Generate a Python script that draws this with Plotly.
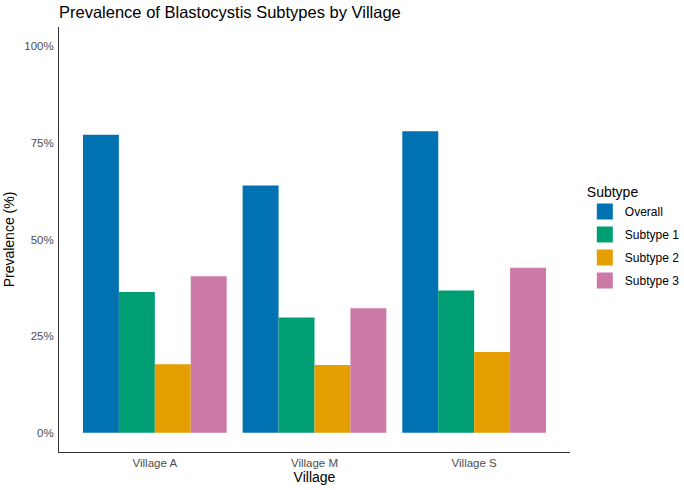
import plotly.graph_objects as go

villages = ["Village A", "Village M", "Village S"]
subtypes = ["Overall", "Subtype 1", "Subtype 2", "Subtype 3"]
overall = [77.1, 64.0, 78.0]
subtype1 = [36.4, 29.8, 36.8]
subtype2 = [17.7, 17.5, 20.9]
subtype3 = [40.5, 32.2, 42.7]
series = [overall, subtype1, subtype2, subtype3]
colors = ["#0072B2", "#009E73", "#E69F00", "#CC79A7"]
y_ticks = [0, 25, 50, 75, 100]

FONT = "Liberation Sans, Arial, Helvetica, sans-serif"

fig = go.Figure()
for name, vals, col in zip(subtypes, series, colors):
    fig.add_trace(go.Bar(
        x=villages, y=vals, name=name, legendgroup=name, showlegend=False,
        marker=dict(color=col, line=dict(width=0)),
    ))
# legend keys (square swatches, like ggplot's keys)
for name, col in zip(subtypes, colors):
    fig.add_trace(go.Scatter(
        x=[None], y=[None], mode="markers", name=name, legendgroup=name,
        marker=dict(symbol="square", size=16, color=col,
                    line=dict(width=0)),
    ))

fig.update_layout(
    template="none",
    width=684, height=490,
    margin=dict(l=59, r=114, t=27, b=38, autoexpand=False),
    paper_bgcolor="white", plot_bgcolor="white",
    barmode="group", bargap=0.1, bargroupgap=0,
    font=dict(family=FONT, color="black"),
    title=dict(text="Prevalence of Blastocystis Subtypes by Village",
               x=59/684, xanchor="left", xref="container",
               y=1-12/490, yanchor="middle",
               font=dict(size=16.5, color="black", family=FONT)),
    legend=dict(
        title=dict(text="Subtype", font=dict(size=14, color="black")),
        font=dict(size=12, color="black"),
        x=1.029, xanchor="left", y=0.505, yanchor="middle",
        tracegroupgap=4, itemwidth=30, itemsizing="trace",
        bgcolor="rgba(0,0,0,0)",
    ),
    xaxis=dict(
        range=[-0.6, 2.6], showline=True, linecolor="#333333", linewidth=1,
        showgrid=False, zeroline=False, ticks="",
        tickfont=dict(size=11.5, color="#4d4d4d"),
        title=dict(text="Village", font=dict(size=14, color="black"), standoff=4),
    ),
    yaxis=dict(
        range=[-5, 105], showline=True, linecolor="#333333", linewidth=1,
        showgrid=False, zeroline=False, ticks="", ticklabelstandoff=2,
        tickvals=y_ticks, ticktext=[f"{v}%" for v in y_ticks],
        tickfont=dict(size=11.5, color="#4d4d4d"),
        title=dict(text="Prevalence (%)", font=dict(size=14, color="black"), standoff=6),
    ),
)

fig.write_html("out.html")
